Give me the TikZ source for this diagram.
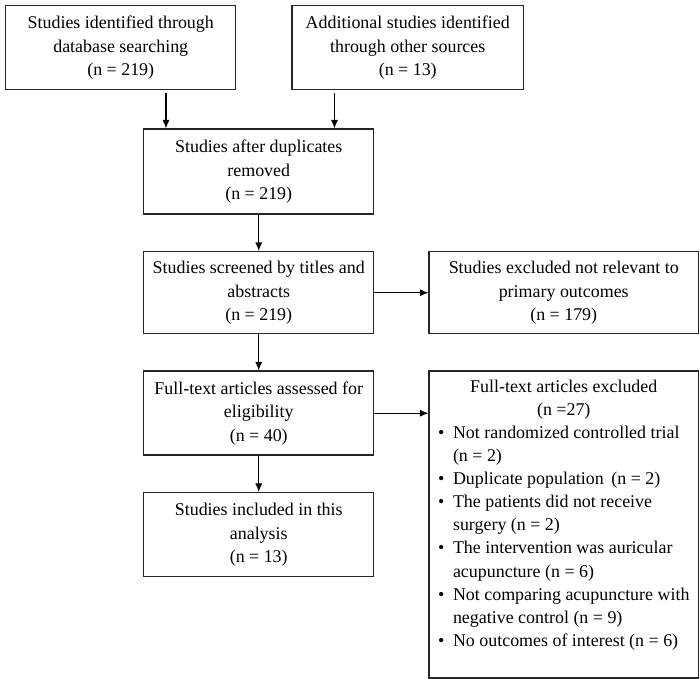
\documentclass[tikz,border=0pt]{standalone}
\usepackage{fontspec}
\setmainfont{Liberation Serif}
\usetikzlibrary{arrows.meta,positioning,calc}
\tikzset{
  >={Latex[length=1.7mm,width=1.4mm]},
  block/.style={draw=black!85, line width=0.85pt, rectangle, minimum height=16.8mm, minimum width=46mm, inner sep=0pt, align=center, font=\fontsize{10.2}{13.4}\selectfont},
  wide/.style={block, minimum width=53.8mm},
  conn/.style={->, line width=0.6pt},
}
\newcommand{\bul}{\textbullet &}

\begin{document}
\begin{tikzpicture}
    \useasboundingbox (0,0) rectangle (140mm,-135.8mm);
    % nodes
    \node[block, anchor=north west] (ident) at (1mm,-1mm) {Studies identified through\\database searching\\(n = 219)};
    \node[block, right=11mm of ident, minimum width=46.2mm] (other) {Additional studies identified\\through other sources\\(n = 13)};
    \node[block, below=7.6mm of ident, xshift=27.6mm, minimum height=17mm] (dupl) {Studies after duplicates\\removed\\(n = 219)};
    \node[block, below=7.2mm of dupl, minimum height=16.4mm] (screen) {Studies screened by titles and\\abstracts\\(n = 219)};
    \node[wide, right=10.8mm of screen, minimum height=16.4mm] (notrel) {Studies excluded not relevant to\\primary outcomes\\(n = 179)};
    \node[block, below=7.2mm of screen] (full) {Full-text articles assessed for\\eligibility\\(n = 40)};
    \node[block, below=7.2mm of full] (incl) {Studies included in this\\analysis\\(n = 13)};
    \node[wide, right=10.8mm of full.north east, anchor=north west, minimum height=61.4mm] (fullex) {%
      \renewcommand{\arraystretch}{0.98}%
      \begin{tabular}{@{}p{3mm}@{}l@{}}
        \multicolumn{2}{c}{Full-text articles excluded}\\
        \multicolumn{2}{c}{(n =27)}\\
        \bul Not randomized controlled trial\\
        & (n = 2)\\
        \bul Duplicate population\, (n = 2)\\
        \bul The patients did not receive\\
        & surgery (n = 2)\\
        \bul The intervention was auricular\\
        & acupuncture (n = 6)\\
        \bul Not comparing acupuncture with\\
        & negative control (n = 9)\\
        \bul No outcomes of interest (n = 6)\\[4mm]
      \end{tabular}};

    % arrow ends
    \coordinate (inA) at ([xshift=4.6mm]dupl.north west);
    \coordinate (inB) at ([xshift=-8mm]dupl.north east);

    % arrows
    \draw[conn, shorten <=0.6mm] (ident.south -| inA) -- (inA);
    \draw[conn, shorten <=0.6mm] (other.south -| inB) -- (inB);
    \draw[conn] (dupl) -- (screen);
    \draw[conn] (screen) -- (notrel);
    \draw[conn] (screen) -- (full);
    \draw[conn] (full.east) -- (full.east -| fullex.west);
    \draw[conn] (full) -- (incl);
\end{tikzpicture}
\end{document}
